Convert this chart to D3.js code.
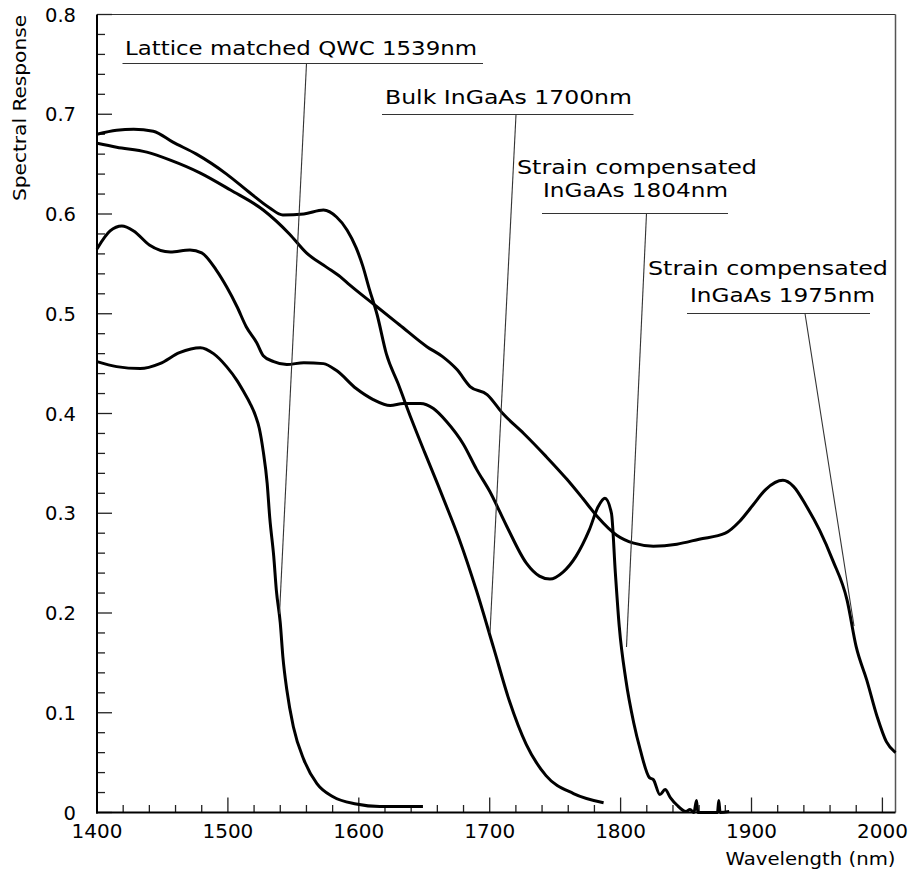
<!DOCTYPE html>
<html>
<head>
<meta charset="utf-8">
<script src="https://cdn.jsdelivr.net/npm/d3@7/dist/d3.min.js"></script>
<style>
  html, body { margin: 0; padding: 0; background: #fff; }
  svg { display: block; }
  text { font-family: "DejaVu Sans", "Liberation Sans", sans-serif; fill: #000; }
</style>
</head>
<body>
<svg id="chart" width="911" height="875"></svg>
<script>
// ---------------- data ----------------
const xDomain = [1400, 2010];
const yDomain = [0, 0.8];
const xTickLabels = [1400, 1500, 1600, 1700, 1800, 1900, 2000];
const yTickLabels = [0, 0.1, 0.2, 0.3, 0.4, 0.5, 0.6, 0.7, 0.8];

const qwcWavelength = [1400,1415,1433,1448,1463,1479,1489,1499,1507,1512,1517,1521,1524,1527,1530,1532,1535,1537,1540,1542,1545,1550,1558,1568,1580,1598,1616,1649];
const qwcResponse   = [0.452,0.447,0.445,0.450,0.461,0.466,0.460,0.447,0.433,0.422,0.410,0.398,0.385,0.362,0.330,0.295,0.257,0.223,0.190,0.156,0.123,0.086,0.053,0.029,0.016,0.0085,0.006,0.006];

const bulkWavelength = [1400,1415,1428,1443,1458,1476,1499,1517,1532,1542,1558,1573,1583,1591,1598,1603,1608,1614,1621,1630,1640,1650,1660,1670,1677,1690,1703,1715,1728,1743,1764,1787];
const bulkResponse   = [0.680,0.684,0.685,0.683,0.672,0.660,0.640,0.621,0.606,0.599,0.600,0.604,0.597,0.584,0.566,0.548,0.525,0.499,0.460,0.430,0.395,0.362,0.330,0.297,0.273,0.222,0.165,0.112,0.068,0.037,0.019,0.0098];

const sc1804Wavelength = [1400,1410,1419,1428,1440,1456,1471,1480,1491,1499,1507,1514,1522,1527,1535,1545,1558,1573,1583,1598,1611,1624,1634,1647,1657,1667,1680,1690,1700,1713,1728,1738,1746,1756,1766,1776,1783,1788,1793,1796,1799,1804,1810,1815,1822,1825,1830,1834,1838,1843,1850,1853,1856,1858,1859,1865,1874,1875,1876,1883];
const sc1804Response   = [0.565,0.583,0.588,0.583,0.569,0.562,0.564,0.561,0.544,0.527,0.507,0.487,0.471,0.458,0.452,0.449,0.451,0.450,0.443,0.425,0.414,0.408,0.410,0.410,0.405,0.392,0.369,0.344,0.322,0.287,0.250,0.237,0.234,0.241,0.257,0.283,0.307,0.315,0.300,0.240,0.186,0.133,0.090,0.063,0.035,0.033,0.018,0.023,0.015,0.0075,0.001,0.003,0.0,0.012,0.0,0.0,0.0,0.012,0.0,0.001];

const sc1975Wavelength = [1400,1415,1438,1456,1479,1502,1527,1547,1560,1575,1586,1593,1611,1631,1652,1664,1675,1685,1698,1710,1726,1743,1759,1771,1782,1797,1810,1825,1843,1860,1880,1891,1901,1911,1924,1932,1942,1952,1962,1973,1980,1988,1996,2003,2010];
const sc1975Response   = [0.671,0.667,0.662,0.654,0.641,0.624,0.604,0.580,0.561,0.547,0.537,0.529,0.510,0.489,0.467,0.457,0.444,0.427,0.419,0.400,0.380,0.357,0.334,0.315,0.297,0.278,0.270,0.267,0.269,0.274,0.280,0.292,0.308,0.324,0.333,0.327,0.307,0.283,0.253,0.213,0.166,0.133,0.096,0.071,0.060];

const annotationLines = [
  ["Lattice matched QWC 1539nm"],
  ["Bulk InGaAs 1700nm"],
  ["Strain compensated", "InGaAs 1804nm"],
  ["Strain compensated", "InGaAs 1975nm"]
];
const xTitle = "Wavelength (nm)";
const yTitle = "Spectral Response";

// ---------------- layout ----------------
const svg = d3.select("#chart");
const pLeft = 97, pRight = 895.5, pTop = 14.5, pBottom = 812.5;

const x = d3.scaleLinear().domain(xDomain).range([pLeft, pRight]);
const y = d3.scaleLinear().domain(yDomain).range([pBottom, pTop]);

// frame (top & right thin)
svg.append("line").attr("x1", pLeft).attr("x2", pRight).attr("y1", pTop).attr("y2", pTop)
  .attr("stroke", "#333").attr("stroke-width", 1.2);
svg.append("line").attr("x1", pRight).attr("x2", pRight).attr("y1", pTop).attr("y2", pBottom)
  .attr("stroke", "#555").attr("stroke-width", 1.5);

// ticks
const xMinor = d3.range(1400, 2001, 20);
const yMinor = d3.range(0, 0.8001, 0.02);
const tickG = svg.append("g").attr("stroke", "#222");
tickG.selectAll(".xt").data(xMinor).join("line")
  .attr("x1", d => x(d)).attr("x2", d => x(d))
  .attr("y1", pBottom).attr("y2", d => pBottom - (Math.round(d) % 100 === 0 ? 15 : 7.5))
  .attr("stroke-width", 1.3);
tickG.selectAll(".yt").data(yMinor).join("line")
  .attr("y1", d => y(d)).attr("y2", d => y(d))
  .attr("x1", pLeft).attr("x2", d => pLeft + (Math.abs(d * 10 - Math.round(d * 10)) < 1e-6 ? 15 : 8))
  .attr("stroke-width", 1.3);

// axis lines (thicker)
svg.append("line").attr("x1", pLeft).attr("x2", pLeft).attr("y1", pTop).attr("y2", pBottom + 1)
  .attr("stroke", "#000").attr("stroke-width", 2);
svg.append("line").attr("x1", pLeft - 1).attr("x2", pRight).attr("y1", pBottom).attr("y2", pBottom)
  .attr("stroke", "#000").attr("stroke-width", 2);

// tick labels
svg.selectAll(".xl").data(xTickLabels).join("text")
  .attr("x", d => x(d)).attr("y", pBottom + 25)
  .attr("text-anchor", "middle").attr("font-size", 20)
  .text(d => d);
svg.selectAll(".yl").data(yTickLabels).join("text")
  .attr("x", 76).attr("y", d => y(d) + 7)
  .attr("text-anchor", "end").attr("font-size", 19.5)
  .text(d => d === 0 ? "0" : d3.format(".1f")(d));

// axis titles
svg.append("text").attr("x", pRight).attr("y", 865)
  .attr("text-anchor", "end").attr("font-size", 18)
  .attr("textLength", 170).attr("lengthAdjust", "spacingAndGlyphs")
  .text(xTitle);
svg.append("text").attr("transform", "translate(26,15) rotate(-90)")
  .attr("text-anchor", "end").attr("font-size", 17)
  .attr("textLength", 186).attr("lengthAdjust", "spacingAndGlyphs")
  .text(yTitle);

// curves
const series = [
  [qwcWavelength, qwcResponse],
  [bulkWavelength, bulkResponse],
  [sc1804Wavelength, sc1804Response],
  [sc1975Wavelength, sc1975Response]
];
const line = d3.line().x(d => x(d[0])).y(d => y(d[1])).curve(d3.curveMonotoneX);
const curveG = svg.append("g");
series.forEach(([w, r]) => {
  curveG.append("path")
    .datum(w.map((v, i) => [v, r[i]]))
    .attr("d", line)
    .attr("fill", "none").attr("stroke", "#000")
    .attr("stroke-width", 3).attr("stroke-linejoin", "round");
});

// annotations (text pixel layout)
const annLayout = [
  { lines: [{ x: 125, y: 55, len: 352 }], ul: [122.5, 483, 63.5], leader: [306.5, 63.5, 279.5, 614] },
  { lines: [{ x: 385, y: 104, len: 247 }], ul: [382, 633.5, 114.5], leader: [516, 114.5, 490, 633] },
  { lines: [{ x: 517, y: 173.5, len: 240 }, { x: 543, y: 197, len: 185 }], ul: [542, 728, 213.5], leader: [646.5, 213.5, 626.5, 647] },
  { lines: [{ x: 648, y: 275, len: 240 }, { x: 690, y: 302, len: 185 }], ul: [687, 870, 313.5], leader: [805, 313.5, 854, 626] }
];
const annG = svg.append("g");
annotationLines.forEach((txts, i) => {
  const L = annLayout[i];
  txts.forEach((t, j) => {
    annG.append("text").attr("x", L.lines[j].x).attr("y", L.lines[j].y)
      .attr("font-size", 19.5)
      .attr("textLength", L.lines[j].len).attr("lengthAdjust", "spacingAndGlyphs")
      .text(t);
  });
  annG.append("line").attr("x1", L.ul[0]).attr("x2", L.ul[1]).attr("y1", L.ul[2]).attr("y2", L.ul[2])
    .attr("stroke", "#333").attr("stroke-width", 1.2);
  annG.append("line").attr("x1", L.leader[0]).attr("y1", L.leader[1]).attr("x2", L.leader[2]).attr("y2", L.leader[3])
    .attr("stroke", "#333").attr("stroke-width", 1.1);
});
</script>
</body>
</html>
